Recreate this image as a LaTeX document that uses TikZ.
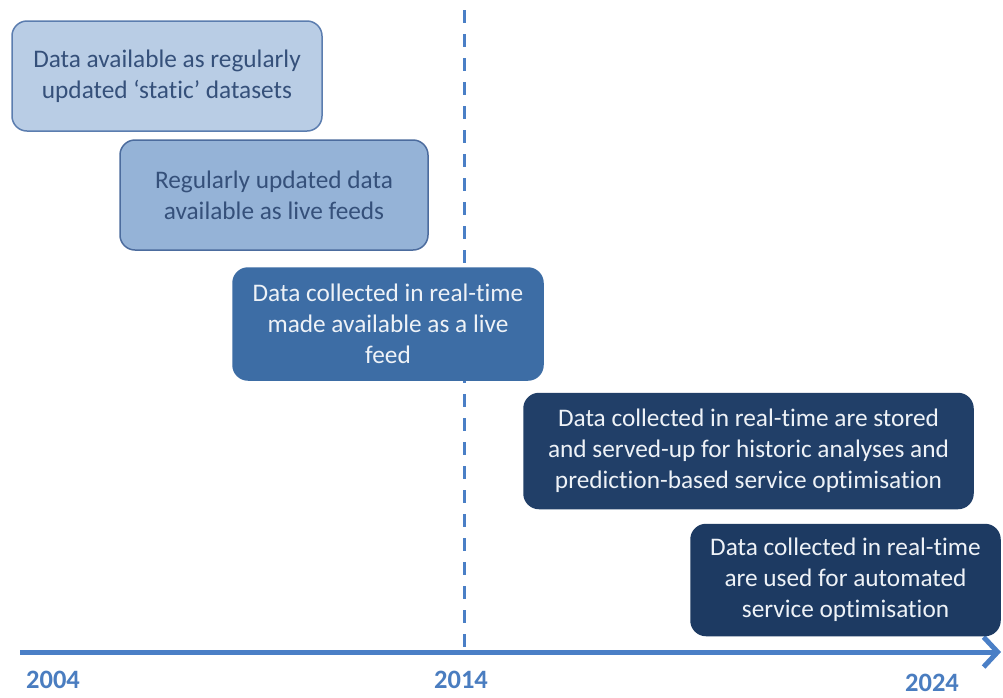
\documentclass[tikz,border=0pt]{standalone}
\usepackage{fontspec}
\setmainfont{Carlito}[RawFeature=-liga]
\usetikzlibrary{arrows.meta}
\definecolor{lightA}{HTML}{B9CDE5}
\definecolor{lightAb}{HTML}{5B7DAF}
\definecolor{lightB}{HTML}{95B3D7}
\definecolor{lightBb}{HTML}{4C6C9E}
\definecolor{midC}{HTML}{3D6DA5}
\definecolor{darkD}{HTML}{213F68}
\definecolor{darkE}{HTML}{1D3A62}
\definecolor{txtdark}{HTML}{35507A}
\definecolor{txtlight}{HTML}{EEF2F7}
\definecolor{axisblue}{HTML}{4A7FC6}
\definecolor{yearblue}{HTML}{4A7DC0}
\tikzset{
  tbox/.style={rounded corners=15pt, align=center, inner sep=0pt,
    font=\fontsize{25.3}{31}\selectfont, line width=1.5pt},
  boxA/.style={tbox, fill=lightA, draw=lightAb, text=txtdark, minimum width=310pt, minimum height=110pt},
  boxB/.style={tbox, fill=lightB, draw=lightBb, text=txtdark, minimum width=308pt, minimum height=110pt},
  boxC/.style={tbox, fill=midC, draw=midC, text=txtlight, minimum width=310pt, minimum height=112pt},
  boxD/.style={tbox, fill=darkD, draw=darkD, text=txtlight, minimum width=449pt, minimum height=115pt},
  boxE/.style={tbox, fill=darkE, draw=darkE, text=txtlight, minimum width=309pt, minimum height=111pt},
  year/.style={font=\fontsize{26.5}{30}\selectfont\bfseries, text=yearblue, inner sep=0pt},
  timeline/.style={draw=axisblue, line width=5pt, -{Straight Barb[length=14pt,width=30pt]}},
  divider/.style={draw=axisblue, line width=3pt, dash pattern=on 13pt off 11pt}
}
\begin{document}
\begin{tikzpicture}[x=1pt,y=-1pt]
\useasboundingbox (0,0) rectangle (1003,697);
\fill[white] (0,0) rectangle (1003,697);
\coordinate (dtop) at (464,10);
\coordinate (dbot) at (464,650);
\draw[divider] (dtop) -- (dbot);
\coordinate (axL) at (20,652);
\coordinate (axR) at (1001,652);
\draw[timeline] (axL) -- (axR);
\node[boxA] (b1) at (167,76) {Data available as regularly\\updated ‘static’ datasets};
\node[boxB] (b2) at (274,195) {Regularly updated data\\available as live feeds};
\node[boxC] (b3) at (388,324) {Data collected in real-time\\made available as a live\\feed};
\node[boxD] (b4) at (748.5,451) {Data collected in real-time are stored\\and served-up for historic analyses and\\prediction-based service optimisation};
\node[boxE] (b5) at (845.5,580) {Data collected in real-time\\are used for automated\\service optimisation};
\node[year] (y1) at (53,680) {2004};
\node[year] (y2) at (461,680) {2014};
\node[year] (y3) at (932,683) {2024};
\end{tikzpicture}
\end{document}
